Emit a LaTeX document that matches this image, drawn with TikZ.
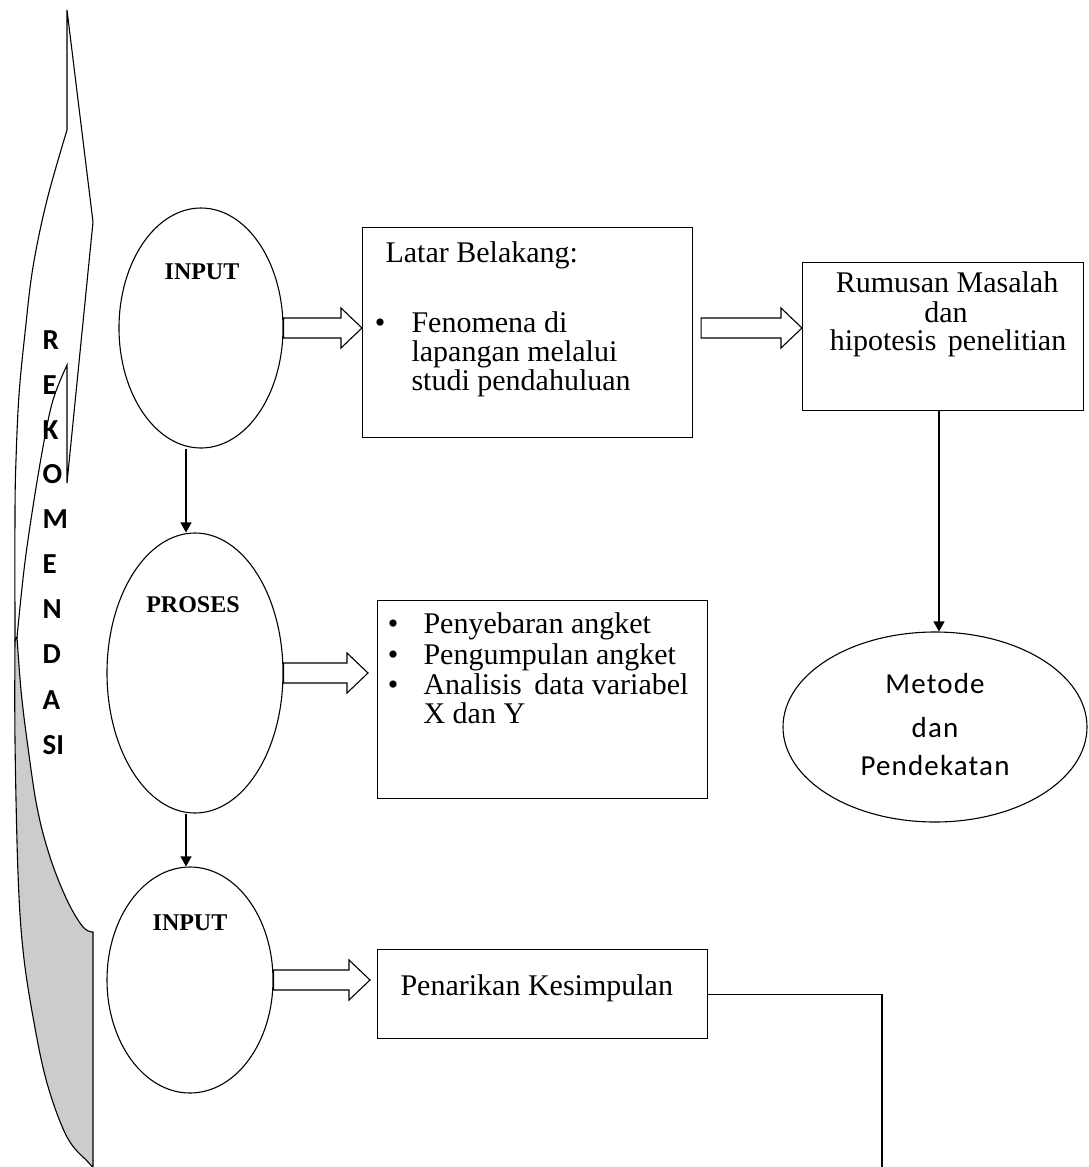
\documentclass[tikz,border=0pt]{standalone}
\usepackage{fontspec}
\setmainfont{Liberation Serif}
\newfontfamily\calibri{Carlito}
\newfontfamily\calibrisp{Carlito}[LetterSpace=4]
\usetikzlibrary{shapes.geometric,arrows.meta,calc}
\newcommand\blkarrow[2]{%
  \draw[fill=white] let \p1=(#1), \p2=(#2) in
    (\x1,\y1+10pt) -- (\x2-21pt,\y1+10pt) -- (\x2-21pt,\y1+20pt) -- (\x2,\y1)
    -- (\x2-21pt,\y1-20pt) -- (\x2-21pt,\y1-10pt) -- (\x1,\y1-10pt) -- cycle;}
\begin{document}
\begin{tikzpicture}[x=1pt,y=-1pt,line width=1.1pt,
  ell/.style={draw,ellipse,inner sep=0pt},
  boxn/.style={draw,rectangle,inner sep=0pt,anchor=north west},
  tms/.style={font=\fontsize{30}{31}\selectfont,inner sep=0pt},
  elab/.style={font=\fontsize{24}{26}\selectfont\bfseries,inner sep=0pt},
  cal/.style={font=\calibrisp\fontsize{29}{30}\selectfont,inner sep=0pt},
  rek/.style={font=\calibri\fontsize{29}{30}\selectfont\bfseries,inner sep=0pt,anchor=west},
  thin/.style={-{Triangle[length=10pt,width=11pt]}}]
\useasboundingbox (0,0) rectangle (1088,1167);
% curved arrow on the left: back face
\draw[fill=black!20] plot[smooth,tension=0.6] coordinates {(17,637) (21,690) (27,740) (37,807) (50,857) (67,900) (83,927) (93,932)}
  -- (93,1167) -- plot[smooth,tension=0.6] coordinates {(93,1167) (88,1162) (67,1137) (47,1083) (33,1017) (23,950) (18,873) (15,740) (15,640)} -- cycle;
% front face with arrowhead
\draw[fill=white] plot[smooth,tension=0.6] coordinates {(15,640) (15,513) (16,460) (19,395) (25,333) (33,267) (47,200) (67,130)}
  -- (67,10) -- (93,222) -- (67,483) -- (67,365)
  -- plot[smooth,tension=0.6] coordinates {(67,365) (53,400) (43,447) (32,513) (24,570) (17,637)} -- cycle;
\foreach \t/\yy [count=\i] in {R/340,E/385,K/430,O/474,M/519,E/564,N/609,D/654,A/700,SI/745}
  \node[rek] (l\i) at (42,\yy) {\t};
% ellipses
\node[ell,minimum width=164,minimum height=240] (in1) at (201,328) {};
\node[ell,minimum width=176,minimum height=280] (in2) at (195,673) {};
\node[ell,minimum width=166,minimum height=226] (in3) at (190,980) {};
\node[ell,minimum width=304,minimum height=190] (met) at (935,727) {};
\node[elab] (t1) at (202,272) {INPUT};
\node[elab] (t2) at (193,605) {PROSES};
\node[elab] (t3) at (190,923) {INPUT};
% boxes
\node[boxn,minimum width=330,minimum height=210] (b1) at (362,227) {};
\node[boxn,minimum width=281,minimum height=148] (b2) at (802,262) {};
\node[boxn,minimum width=330,minimum height=198] (b3) at (377,600) {};
\node[boxn,minimum width=330,minimum height=89] (b4) at (377,949) {};
% box texts
\node[tms,anchor=base west] (x1) at (385,262) {Latar Belakang:};
\node[tms,anchor=base] (x2) at (380,332) {\textbullet};
\node[tms,anchor=base west] (x3) at (411,332) {Fenomena di};
\node[tms,anchor=base west] (x4) at (411,361) {lapangan melalui};
\node[tms,anchor=base west] (x5) at (411,390) {studi pendahuluan};
\node[tms,anchor=base] (y1) at (947,292) {Rumusan Masalah};
\node[tms,anchor=base] (y2) at (946,322) {dan};
\node[tms,anchor=base] (y3) at (948,350) {hipotesis\hspace{4pt} penelitian};
\node[tms,anchor=base] (z1) at (393,633) {\textbullet};
\node[tms,anchor=base] (z2) at (393,664) {\textbullet};
\node[tms,anchor=base] (z3) at (393,694) {\textbullet};
\node[tms,anchor=base west] (z4) at (423,633) {Penyebaran angket};
\node[tms,anchor=base west] (z5) at (423,664) {Pengumpulan angket};
\node[tms,anchor=base west] (z6) at (423,694) {Analisis\hspace{5pt} data variabel};
\node[tms,anchor=base west] (z7) at (423,723) {X dan Y};
\node[tms,anchor=base west] (w1) at (400,995) {Penarikan Kesimpulan};
\node[cal,anchor=base] (m1) at (935,693) {Metode};
\node[cal,anchor=base] (m2) at (935,737) {dan};
\node[cal,anchor=base] (m3) at (935,775) {Pendekatan};
% block arrows
\blkarrow{in1.east}{in1.east -| b1.west}
\blkarrow{$(b1.east|-in1.east)+(8,0)$}{in1.east -| b2.west}
\blkarrow{in2.east}{$(in2.east -| b3.west)+(-9,0)$}
\blkarrow{in3.east}{$(in3.east -| b4.west)+(-7,0)$}
% thin arrows
\coordinate (ax) at (186,0);
\draw[thin] (in1.south -| ax) -- (in2.north -| ax);
\draw[thin] (in2.south -| ax) -- (in3.north -| ax);
\coordinate (bx) at (939,0);
\draw[thin] (b2.south -| bx) -- (met.north -| bx);
\coordinate (endc) at (882,1167);
\draw (b4.east) -| (endc);
\end{tikzpicture}
\end{document}
